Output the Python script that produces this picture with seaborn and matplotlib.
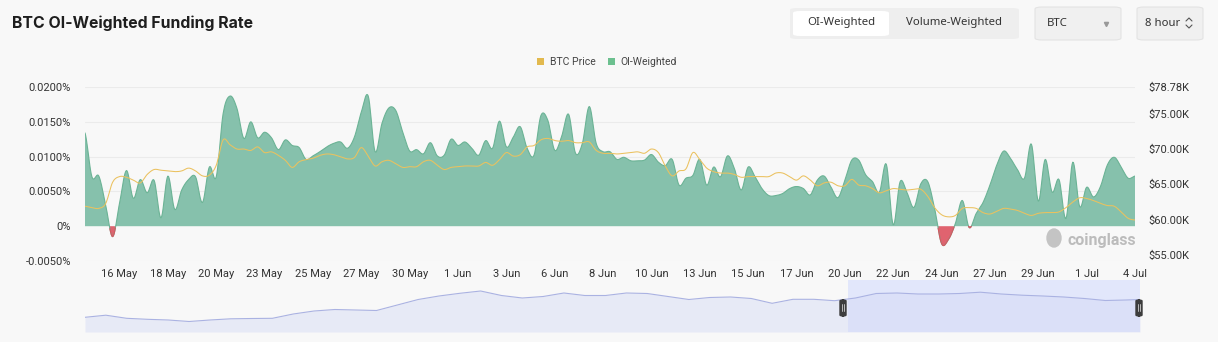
import numpy as np
import pandas as pd
import matplotlib
matplotlib.use("Agg")
import matplotlib.pyplot as plt
import seaborn as sns
from matplotlib.patches import FancyBboxPatch, Rectangle, Patch, Ellipse
from matplotlib.lines import Line2D

# ---------------- data (8-hour points) ----------------
funding_rate = [
    0.0134, 0.0071, 0.0072, 0.0030, -0.0015, 0.0033, 0.0080, 0.0040, 0.0067, 0.0048,
    0.0066, 0.0012, 0.0072, 0.0024, 0.0052, 0.0067, 0.0071, 0.0034, 0.0085, 0.0071,
    0.0162, 0.0187, 0.0169, 0.0126, 0.0150, 0.0127, 0.0135, 0.0127, 0.0110, 0.0124,
    0.0116, 0.0113, 0.0096, 0.0101, 0.0107, 0.0114, 0.0119, 0.0121, 0.0112, 0.0128,
    0.0164, 0.0187, 0.0107, 0.0148, 0.0170, 0.0166, 0.0135, 0.0108, 0.0110, 0.0104,
    0.0120, 0.0101, 0.0102, 0.0125, 0.0116, 0.0121, 0.0112, 0.0102, 0.0123, 0.0112,
    0.0151, 0.0114, 0.0128, 0.0143, 0.0112, 0.0102, 0.0159, 0.0152, 0.0109, 0.0129,
    0.0161, 0.0105, 0.0119, 0.0172, 0.0119, 0.0107, 0.0107, 0.0096, 0.0099, 0.0094,
    0.0094, 0.0095, 0.0103, 0.0092, 0.0087, 0.0096, 0.0059, 0.0069, 0.0073, 0.0096,
    0.0059, 0.0085, 0.0071, 0.0101, 0.0083, 0.0052, 0.0085, 0.0071, 0.0054, 0.0044,
    0.0044, 0.0047, 0.0054, 0.0057, 0.0054, 0.0045, 0.0066, 0.0072, 0.0056, 0.0041,
    0.0066, 0.0095, 0.0095, 0.0074, 0.0064, 0.0049, 0.0089, 0.0002, 0.0064, 0.0048,
    0.0027, 0.0061, 0.0064, 0.0025, -0.0025, -0.0019, 0.0004, 0.0037, -0.0002, 0.0018,
    0.0034, 0.0059, 0.0088, 0.0108, 0.0097, 0.0081, 0.0069, 0.0118, 0.0036, 0.0096,
    0.0049, 0.0067, 0.0011, 0.0092, 0.0028, 0.0056, 0.0042, 0.0057, 0.0088, 0.0099,
    0.0085, 0.0069, 0.0072,
]

btc_price_k = [
    61.9, 61.7, 61.6, 62.3, 65.3, 66.1, 66.0, 65.6, 65.2, 66.4,
    67.1, 67.0, 66.9, 66.8, 66.9, 67.3, 66.9, 66.2, 66.3, 67.7,
    71.3, 70.6, 70.0, 70.0, 69.8, 70.3, 69.5, 69.6, 69.1, 68.4,
    67.4, 68.2, 68.5, 68.7, 69.1, 69.3, 69.2, 68.9, 68.6, 68.8,
    70.2, 69.0, 67.6, 68.2, 68.4, 67.9, 67.4, 67.5, 67.5, 68.2,
    68.4, 67.7, 67.1, 67.4, 67.5, 67.6, 67.6, 67.6, 68.1, 67.7,
    68.5, 69.5, 69.0, 69.2, 70.3, 70.5, 71.3, 71.5, 71.2, 71.1,
    71.2, 70.9, 70.9, 71.0, 69.8, 69.4, 69.4, 69.3, 69.4, 69.5,
    69.6, 69.4, 70.0, 69.5, 67.6, 66.2, 66.9, 67.2, 69.5, 68.5,
    67.3, 66.8, 66.6, 66.6, 66.4, 66.0, 66.1, 66.1, 66.1, 66.1,
    66.6, 66.6, 66.1, 65.6, 66.2, 65.6, 64.8, 65.2, 65.3, 64.8,
    64.8, 65.7, 64.9, 64.8, 64.4, 63.8, 64.1, 64.4, 64.3, 64.2,
    64.3, 64.3, 63.3, 61.7, 60.7, 60.4, 60.6, 61.6, 61.7, 61.6,
    61.0, 60.8, 61.2, 61.6, 61.5, 61.3, 60.9, 60.6, 60.9, 61.0,
    61.0, 61.1, 61.7, 62.5, 63.1, 63.0, 62.7, 62.3, 62.0, 61.9,
    61.1, 60.2, 59.95,
]

x_tick_labels = ["16 May", "18 May", "20 May", "23 May", "25 May", "27 May", "30 May",
                 "1 Jun", "3 Jun", "6 Jun", "8 Jun", "10 Jun", "13 Jun", "15 Jun",
                 "17 Jun", "20 Jun", "22 Jun", "24 Jun", "27 Jun", "29 Jun", "1 Jul", "4 Jul"]
x_tick_index = list(range(5, 153, 7))

left_ticks = [0.02, 0.015, 0.01, 0.005, 0.0, -0.005]
left_tick_labels = ["0.0200%", "0.0150%", "0.0100%", "0.0050%", "0%", "-0.0050%"]
right_ticks = [78.78, 75.0, 70.0, 65.0, 60.0, 55.0]
right_tick_labels = ["$78.78K", "$75.00K", "$70.00K", "$65.00K", "$60.00K", "$55.00K"]

# navigator (overview) series, sampled every 3 points
nav_index = list(range(0, 151, 3)) + [152]
nav_values = [14.7, 16.8, 13.7, 12.7, 12, 10.5, 12, 13.2, 13.5, 13.7, 18, 21, 22.5, 22,
              21.5, 27, 32.5, 36, 38.7, 41, 36.5, 34, 35.5, 39, 36.5, 36.5, 39, 38.5,
              35.5, 32.5, 34.5, 35, 33.5, 28.7, 32.7, 32.7, 31.3, 34, 38.5, 39, 38, 38,
              38.5, 39.8, 38, 36.8, 36, 35, 33.5, 31.5, 32, 32.5]
nav_sel_start, nav_sel_end = 110, 152

# ---------------- style ----------------
sns.set_style("white")
plt.rcParams["font.family"] = ["Roboto", "DejaVu Sans"]

BG = "#f8f8f8"
GREEN_FILL = "#86c1ac"
GREEN_EDGE = "#6bb395"
RED = "#e0636f"
GOLD = "#ebc15e"
TXT = "#333333"

W, H = 1218, 342
fig = plt.figure(figsize=(W / 100, H / 100), dpi=100, facecolor=BG)


def fx(x):
    return x / W


def fy(y):
    return 1 - y / H


def smooth(x, y, n=10):
    x = np.asarray(x, float)
    y = np.asarray(y, float)
    xs, ys = [], []
    t = np.linspace(0, 1, n, endpoint=False)
    h00 = 2 * t**3 - 3 * t**2 + 1
    h10 = t**3 - 2 * t**2 + t
    h01 = -2 * t**3 + 3 * t**2
    h11 = t**3 - t**2
    for i in range(len(x) - 1):
        y0 = y[i - 1] if i > 0 else y[i]
        y3 = y[i + 2] if i + 2 < len(y) else y[i + 1]
        m1 = (y[i + 1] - y0) / 2
        m2 = (y3 - y[i]) / 2
        ys.append(h00 * y[i] + h10 * m1 + h01 * y[i + 1] + h11 * m2)
        xs.append(x[i] + t * (x[i + 1] - x[i]))
    xs.append([x[-1]])
    ys.append([y[-1]])
    return np.concatenate(xs), np.concatenate(ys)


idx = np.arange(len(funding_rate))
df = pd.DataFrame({"idx": idx, "rate": funding_rate, "price": btc_price_k})

# ---------------- main chart ----------------
ax = fig.add_axes([fx(85), fy(261), fx(1135) - fx(85), fy(87) - fy(261)])
ax.set_facecolor("none")
sx, sy = smooth(df["idx"], df["rate"])
ax.fill_between(sx, sy, 0, where=sy >= 0, interpolate=True, color=GREEN_FILL, lw=0, zorder=2)
ax.fill_between(sx, sy, 0, where=sy <= 0, interpolate=True, color=RED, lw=0, zorder=2)
sm = pd.DataFrame({"x": sx, "y": sy})
sns.lineplot(data=sm, x="x", y="y", ax=ax, color=GREEN_EDGE, lw=0.8, zorder=3, estimator=None, sort=False)
neg = np.where(sy <= 0, sy, np.nan)
ax.plot(sx, neg, color="#d9545f", lw=0.8, zorder=3)

ax.set_xlim(0, 152)
ax.set_ylim(-0.005, 0.02)
ax.set_yticks(left_ticks)
ax.set_yticklabels(left_tick_labels)
ax.set_xticks(x_tick_index)
ax.set_xticklabels(x_tick_labels)
ax.tick_params(axis="both", length=0, labelsize=8, labelcolor=TXT)
ax.tick_params(axis="y", pad=10)
ax.tick_params(axis="x", pad=6)
for yv in [0.02, 0.015, 0.01, 0.005, -0.005]:
    ax.axhline(yv, color="#ebebeb", lw=0.8, zorder=0)
for s in ax.spines.values():
    s.set_visible(False)
ax.set_xlabel("")
ax.set_ylabel("")

ax2 = ax.twinx()
px, py = smooth(df["idx"], df["price"])
pm = pd.DataFrame({"x": px, "y": py})
sns.lineplot(data=pm, x="x", y="y", ax=ax2, color=GOLD, lw=0.75, estimator=None, sort=False)
ax2.set_ylim(54.15, 78.78)
ax2.set_yticks(right_ticks)
ax2.set_yticklabels(right_tick_labels)
ax2.tick_params(axis="y", length=0, labelsize=8, labelcolor=TXT, pad=10)
ax2.set_ylabel("")
for s in ax2.spines.values():
    s.set_visible(False)
ax2.set_xlim(0, 152)

# watermark
fig.text(fx(1068), fy(240), "coinglass", fontsize=11.5, color="#bcbcbc",
         fontweight="bold", va="center", ha="left", family=["Roboto", "DejaVu Sans"])
fig.patches.append(Ellipse((fx(1054), fy(238)), fx(14), 18 / H, transform=fig.transFigure,
                           color="#c4c4c4", zorder=5))

# legend
handles = [Patch(facecolor="#e2b94e", edgecolor="none", label="BTC Price"),
           Patch(facecolor="#6cc08f", edgecolor="none", label="OI-Weighted")]
fig.legend(handles=handles, loc="center", bbox_to_anchor=(fx(607), fy(62)), ncol=2,
           frameon=False, fontsize=7.5, handlelength=0.7, handleheight=0.7,
           handletextpad=0.5, columnspacing=1.2, labelcolor="#444444")

# ---------------- navigator ----------------
nav = fig.add_axes([fx(85), fy(332), fx(1140) - fx(85), fy(280) - fy(332)])
nav.set_facecolor("none")
nav.set_xlim(0, 152)
nav.set_ylim(0, 52)
nav.add_patch(Rectangle((nav_sel_start, 0), nav_sel_end - nav_sel_start, 52,
                        color="#e2e7fb", lw=0, zorder=0))
nd = pd.DataFrame({"i": nav_index, "v": nav_values})
nav.fill_between(nd["i"], nd["v"], 0, color="#d3d9f5", alpha=0.45, lw=0, zorder=1)
sns.lineplot(data=nd, x="i", y="v", ax=nav, color="#aab2e2", lw=0.8, zorder=2)
nav.set_xticks([])
nav.set_yticks([])
nav.set_xlabel("")
nav.set_ylabel("")
for s in nav.spines.values():
    s.set_visible(False)
for hx in [843, 1139]:
    fig.patches.append(FancyBboxPatch((fx(hx - 3), fy(316)), fx(6), 16 / H,
                                      boxstyle="round,pad=0,rounding_size=0.003",
                                      transform=fig.transFigure, color="#3d3d3d", zorder=6))
    for dx in (-1, 1):
        fig.lines.append(Line2D([fx(hx + dx), fx(hx + dx)], [fy(304), fy(311)],
                                transform=fig.transFigure, color="#d0d0d0", lw=0.6, zorder=7))

# ---------------- header ----------------
fig.text(fx(12), fy(23), "BTC OI-Weighted Funding Rate", fontsize=11.4, fontweight="bold",
         color="#1e1e1e", va="center", ha="left", family=["Inter", "DejaVu Sans"])


def box(x0, y0, x1, y1, fc, ec="none", r=0.006):
    fig.patches.append(FancyBboxPatch((fx(x0), fy(y1)), fx(x1) - fx(x0), fy(y0) - fy(y1),
                                      boxstyle=f"round,pad=0,rounding_size={r}",
                                      transform=fig.transFigure, fc=fc, ec=ec, lw=0.8))


box(790, 8, 1019, 39, "#eeeeee")
box(793, 11, 889, 36, "#ffffff")
ui_font = ["Noto Sans", "DejaVu Sans"]
fig.text(fx(841), fy(23), "OI-Weighted", fontsize=8.2, color=TXT, ha="center", va="center", family=ui_font)
fig.text(fx(954), fy(23), "Volume-Weighted", fontsize=8.2, color=TXT, ha="center", va="center", family=ui_font)
box(1035, 7, 1121, 40, "#f0f0f0", "#e3e3e3")
fig.text(fx(1047), fy(23), "BTC", fontsize=8.2, color=TXT, ha="left", va="center", family=ui_font)
fig.lines.append(Line2D([fx(1106)], [fy(24)], transform=fig.transFigure, marker="v",
                        markersize=3, color="#999999", lw=0))
box(1137, 7, 1203, 40, "#f0f0f0", "#e3e3e3")
fig.text(fx(1145), fy(23), "8 hour", fontsize=8.2, color=TXT, ha="left", va="center", family=ui_font)
fig.lines.append(Line2D([fx(1186), fx(1189), fx(1192)], [fy(21), fy(18), fy(21)],
                        transform=fig.transFigure, color="#555555", lw=0.8))
fig.lines.append(Line2D([fx(1186), fx(1189), fx(1192)], [fy(25), fy(28), fy(25)],
                        transform=fig.transFigure, color="#555555", lw=0.8))

fig.savefig("out.png", dpi=100, facecolor=BG)
